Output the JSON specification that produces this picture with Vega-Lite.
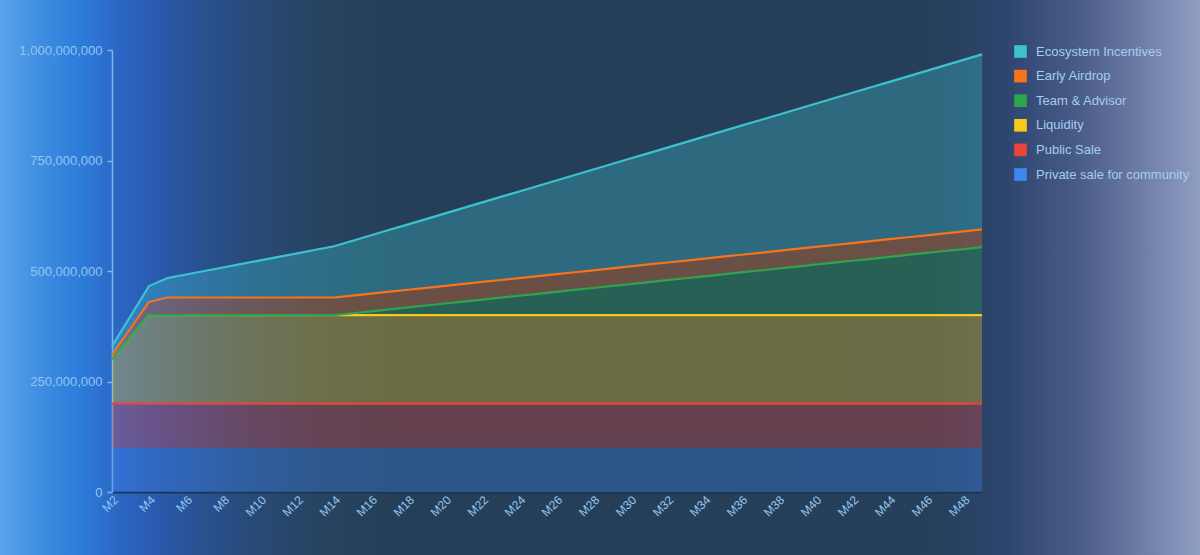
{
  "$schema": "https://vega.github.io/schema/vega-lite/v6.json",
  "width": 1200,
  "height": 555,
  "autosize": {"type": "none"},
  "padding": 0,
  "background": "#263f58",
  "config": {
    "font": "Liberation Sans",
    "view": {
      "stroke": null,
      "fill": {
        "gradient": "linear", "x1": 0, "y1": 0, "x2": 1, "y2": 0,
        "stops": [
          {"offset": 0, "color": "#5aa3ea"},
          {"offset": 0.04, "color": "#3a8ae0"},
          {"offset": 0.065, "color": "#2e7ddb"},
          {"offset": 0.1, "color": "#2b66c4"},
          {"offset": 0.13, "color": "#2a5aae"},
          {"offset": 0.17, "color": "#29518f"},
          {"offset": 0.21, "color": "#284a78"},
          {"offset": 0.27, "color": "#27435f"},
          {"offset": 0.33, "color": "#263f58"},
          {"offset": 0.78, "color": "#263f5a"},
          {"offset": 0.84, "color": "#2e4670"},
          {"offset": 0.9, "color": "#4a5c88"},
          {"offset": 0.955, "color": "#7180a8"},
          {"offset": 1, "color": "#8f9dc2"}
        ]
      }
    },
    "axis": {"labelFont": "Liberation Sans", "labelFontSize": 13, "labelColor": "#92c6f0", "title": null}
  },
  "datasets": {
    "series": [
      {"k": "p", "name": "Private sale for community", "o": 1},
      {"k": "u", "name": "Public Sale", "o": 2},
      {"k": "l", "name": "Liquidity", "o": 3},
      {"k": "t", "name": "Team & Advisor", "o": 4},
      {"k": "a", "name": "Early Airdrop", "o": 5},
      {"k": "e", "name": "Ecosystem Incentives", "o": 6}
    ]
  },
  "data": {
    "values": [
      {"m": 2, "p": 100000000, "u": 100000000, "l": 100000000, "t": 0, "a": 10000000, "e": 20000000},
      {"m": 3, "p": 100000000, "u": 100000000, "l": 150000000, "t": 0, "a": 20000000, "e": 28000000},
      {"m": 4, "p": 100000000, "u": 100000000, "l": 200000000, "t": 0, "a": 30000000, "e": 36000000},
      {"m": 5, "p": 100000000, "u": 100000000, "l": 200000000, "t": 0, "a": 40000000, "e": 44000000},
      {"m": 6, "p": 100000000, "u": 100000000, "l": 200000000, "t": 0, "a": 40000000, "e": 52000000},
      {"m": 7, "p": 100000000, "u": 100000000, "l": 200000000, "t": 0, "a": 40000000, "e": 60000000},
      {"m": 8, "p": 100000000, "u": 100000000, "l": 200000000, "t": 0, "a": 40000000, "e": 68000000},
      {"m": 9, "p": 100000000, "u": 100000000, "l": 200000000, "t": 0, "a": 40000000, "e": 76000000},
      {"m": 10, "p": 100000000, "u": 100000000, "l": 200000000, "t": 0, "a": 40000000, "e": 84000000},
      {"m": 11, "p": 100000000, "u": 100000000, "l": 200000000, "t": 0, "a": 40000000, "e": 92000000},
      {"m": 12, "p": 100000000, "u": 100000000, "l": 200000000, "t": 0, "a": 40000000, "e": 100000000},
      {"m": 13, "p": 100000000, "u": 100000000, "l": 200000000, "t": 0, "a": 40000000, "e": 108000000},
      {"m": 14, "p": 100000000, "u": 100000000, "l": 200000000, "t": 0, "a": 40000000, "e": 116000000},
      {"m": 15, "p": 100000000, "u": 100000000, "l": 200000000, "t": 4400000, "a": 40000000, "e": 124000000},
      {"m": 16, "p": 100000000, "u": 100000000, "l": 200000000, "t": 8800000, "a": 40000000, "e": 132000000},
      {"m": 17, "p": 100000000, "u": 100000000, "l": 200000000, "t": 13200000, "a": 40000000, "e": 140000000},
      {"m": 18, "p": 100000000, "u": 100000000, "l": 200000000, "t": 17600000, "a": 40000000, "e": 148000000},
      {"m": 19, "p": 100000000, "u": 100000000, "l": 200000000, "t": 22000000, "a": 40000000, "e": 156000000},
      {"m": 20, "p": 100000000, "u": 100000000, "l": 200000000, "t": 26400000, "a": 40000000, "e": 164000000},
      {"m": 21, "p": 100000000, "u": 100000000, "l": 200000000, "t": 30800000, "a": 40000000, "e": 172000000},
      {"m": 22, "p": 100000000, "u": 100000000, "l": 200000000, "t": 35200000, "a": 40000000, "e": 180000000},
      {"m": 23, "p": 100000000, "u": 100000000, "l": 200000000, "t": 39600000, "a": 40000000, "e": 188000000},
      {"m": 24, "p": 100000000, "u": 100000000, "l": 200000000, "t": 44000000, "a": 40000000, "e": 196000000},
      {"m": 25, "p": 100000000, "u": 100000000, "l": 200000000, "t": 48400000, "a": 40000000, "e": 204000000},
      {"m": 26, "p": 100000000, "u": 100000000, "l": 200000000, "t": 52800000, "a": 40000000, "e": 212000000},
      {"m": 27, "p": 100000000, "u": 100000000, "l": 200000000, "t": 57200000, "a": 40000000, "e": 220000000},
      {"m": 28, "p": 100000000, "u": 100000000, "l": 200000000, "t": 61600000, "a": 40000000, "e": 228000000},
      {"m": 29, "p": 100000000, "u": 100000000, "l": 200000000, "t": 66000000, "a": 40000000, "e": 236000000},
      {"m": 30, "p": 100000000, "u": 100000000, "l": 200000000, "t": 70400000, "a": 40000000, "e": 244000000},
      {"m": 31, "p": 100000000, "u": 100000000, "l": 200000000, "t": 74800000, "a": 40000000, "e": 252000000},
      {"m": 32, "p": 100000000, "u": 100000000, "l": 200000000, "t": 79200000, "a": 40000000, "e": 260000000},
      {"m": 33, "p": 100000000, "u": 100000000, "l": 200000000, "t": 83600000, "a": 40000000, "e": 268000000},
      {"m": 34, "p": 100000000, "u": 100000000, "l": 200000000, "t": 88000000, "a": 40000000, "e": 276000000},
      {"m": 35, "p": 100000000, "u": 100000000, "l": 200000000, "t": 92400000, "a": 40000000, "e": 284000000},
      {"m": 36, "p": 100000000, "u": 100000000, "l": 200000000, "t": 96800000, "a": 40000000, "e": 292000000},
      {"m": 37, "p": 100000000, "u": 100000000, "l": 200000000, "t": 101200000, "a": 40000000, "e": 300000000},
      {"m": 38, "p": 100000000, "u": 100000000, "l": 200000000, "t": 105600000, "a": 40000000, "e": 308000000},
      {"m": 39, "p": 100000000, "u": 100000000, "l": 200000000, "t": 110000000, "a": 40000000, "e": 316000000},
      {"m": 40, "p": 100000000, "u": 100000000, "l": 200000000, "t": 114400000, "a": 40000000, "e": 324000000},
      {"m": 41, "p": 100000000, "u": 100000000, "l": 200000000, "t": 118800000, "a": 40000000, "e": 332000000},
      {"m": 42, "p": 100000000, "u": 100000000, "l": 200000000, "t": 123200000, "a": 40000000, "e": 340000000},
      {"m": 43, "p": 100000000, "u": 100000000, "l": 200000000, "t": 127600000, "a": 40000000, "e": 348000000},
      {"m": 44, "p": 100000000, "u": 100000000, "l": 200000000, "t": 132000000, "a": 40000000, "e": 356000000},
      {"m": 45, "p": 100000000, "u": 100000000, "l": 200000000, "t": 136400000, "a": 40000000, "e": 364000000},
      {"m": 46, "p": 100000000, "u": 100000000, "l": 200000000, "t": 140800000, "a": 40000000, "e": 372000000},
      {"m": 47, "p": 100000000, "u": 100000000, "l": 200000000, "t": 145200000, "a": 40000000, "e": 380000000},
      {"m": 48, "p": 100000000, "u": 100000000, "l": 200000000, "t": 149600000, "a": 40000000, "e": 388000000},
      {"m": 49, "p": 100000000, "u": 100000000, "l": 200000000, "t": 154000000, "a": 40000000, "e": 396000000}
    ]
  },
  "transform": [
    {"fold": ["p", "u", "l", "t", "a", "e"], "as": ["k", "v"]},
    {"lookup": "k", "from": {"data": {"name": "series"}, "key": "k", "fields": ["name", "o"]}},
    {"stack": "v", "groupby": ["m"], "sort": [{"field": "o", "order": "ascending"}], "as": ["v0", "v1"]}
  ],
  "layer": [
    {
      "mark": {"type": "area", "fillOpacity": 0.33, "strokeWidth": 0},
      "encoding": {
        "x": {
          "field": "m", "type": "quantitative",
          "scale": {"domain": [2, 49], "range": [112, 982], "nice": false, "zero": false},
          "axis": {
            "offset": -63,
            "values": [2, 4, 6, 8, 10, 12, 14, 16, 18, 20, 22, 24, 26, 28, 30, 32, 34, 36, 38, 40, 42, 44, 46, 48],
            "labelExpr": "'M' + datum.value",
            "labelAngle": -45,
            "labelFontSize": 12,
            "labelPadding": 2,
            "labelOverlap": false,
            "labelBound": false,
            "labelFlush": false,
            "ticks": false,
            "grid": false,
            "domainColor": "#1c3553",
            "domainWidth": 2
          }
        },
        "y": {
          "field": "v1", "type": "quantitative",
          "scale": {"domain": [0, 1000000000], "range": [492, 50], "nice": false},
          "axis": {
            "offset": -112,
            "values": [0, 250000000, 500000000, 750000000, 1000000000],
            "format": ",d",
            "grid": false,
            "labelOverlap": false,
            "labelBound": false,
            "labelFlush": false,
            "domainColor": "#7db6e6",
            "domainWidth": 1.5,
            "tickColor": "#7db6e6",
            "tickSize": 5,
            "tickWidth": 1.5,
            "labelPadding": 5
          }
        },
        "y2": {"field": "v0"},
        "color": {
          "field": "name", "type": "nominal",
          "scale": {
            "domain": ["Ecosystem Incentives", "Early Airdrop", "Team & Advisor", "Liquidity", "Public Sale", "Private sale for community"],
            "range": ["#3ec1cf", "#f7731c", "#2ea44f", "#f8c91a", "#e8453c", "#3f86ee"]
          },
          "legend": {
            "title": null,
            "orient": "none",
            "legendX": 1014,
            "legendY": 45,
            "padding": 0,
            "symbolType": "square",
            "symbolSize": 160,
            "symbolOpacity": 1,
            "symbolStrokeWidth": 0,
            "labelFont": "Liberation Sans",
            "labelFontSize": 13,
            "labelColor": "#a3cdf2",
            "labelOffset": 9,
            "rowPadding": 10.6
          }
        }
      }
    },
    {
      "transform": [{"filter": "datum.k != 'p'"}],
      "mark": {"type": "line", "strokeWidth": 2.2},
      "encoding": {
        "x": {"field": "m", "type": "quantitative"},
        "y": {"field": "v1", "type": "quantitative"},
        "color": {"field": "name", "type": "nominal", "legend": null},
        "strokeWidth": {"condition": {"test": "datum.k == 'e'", "value": 1.4}, "value": 2.4}
      }
    }
  ]
}
